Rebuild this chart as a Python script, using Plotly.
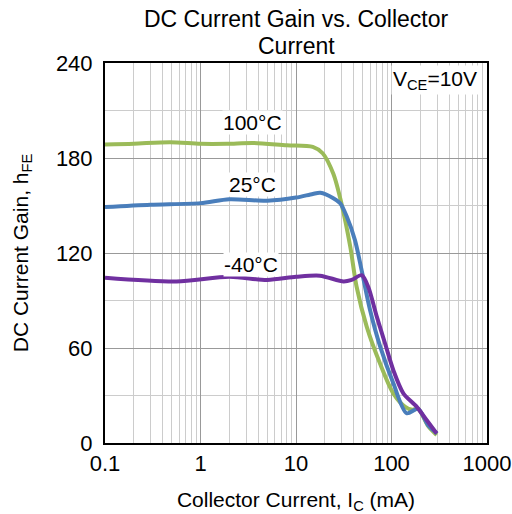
import plotly.graph_objects as go

# 100°C
x_100 = [0.1, 0.2, 0.48, 1, 1.9, 3.6, 8, 15, 19, 24.6, 30, 37, 43, 55, 76, 104, 138, 165, 190, 243, 297]
y_100 = [188.5, 189, 190, 189, 189, 189.5, 188, 187, 183, 170, 151, 124, 99, 73.5, 50, 31.5, 23, 21, 21.5, 10.5, 5]

# 25°C
x_25 = [0.1, 0.3, 1, 2, 5, 10, 15, 18, 24.6, 29, 34, 41.5, 48.7, 59.6, 76, 104.5, 144, 190, 243, 300]
y_25 = [149, 150.5, 151.5, 154, 153, 155, 157.3, 158, 154.6, 151.4, 143, 128, 109, 84, 61, 37.7, 18.8, 21.5, 11, 6]

# -40°C
x_m40 = [0.1, 0.56, 2, 5, 10, 17.8, 31.5, 38.3, 48.7, 57, 70, 85.5, 104.5, 133, 183, 233, 297]
y_m40 = [104.4, 102, 105, 103, 105, 105.7, 102, 103, 106, 98.7, 80, 63, 46, 31.4, 23, 14.5, 6]

x_ticks = [0.1, 1, 10, 100, 1000]
x_tick_labels = ["0.1", "1", "10", "100", "1000"]
y_ticks = [0, 60, 120, 180, 240]

FONT = "Liberation Sans, Arial, sans-serif"

fig = go.Figure()
series = [
    (x_100, y_100, "#9BBB59", "100°C"),
    (x_25, y_25, "#4A7EBB", "25°C"),
    (x_m40, y_m40, "#7030A0", "-40°C"),
]
for xs, ys, col, name in series:
    fig.add_trace(go.Scatter(x=xs, y=ys, mode="lines", name=name, hoverinfo="skip",
                             line=dict(color=col, width=4, shape="spline", smoothing=0.8)))

fig.update_layout(
    width=512, height=514,
    margin=dict(l=105, r=25, t=63, b=71, autoexpand=False),
    paper_bgcolor="white", plot_bgcolor="white",
    showlegend=False,
    font=dict(family=FONT, color="black", size=21),
)

fig.update_xaxes(
    type="log", range=[-1, 3], automargin=False,
    tickvals=x_ticks, ticktext=x_tick_labels,
    showgrid=True, gridcolor="#999999", gridwidth=1,
    minor=dict(dtick="D1", showgrid=True, gridcolor="#cccccc", gridwidth=1),
    showline=True, linecolor="black", linewidth=2, mirror=True,
    ticks="", tickfont=dict(size=22),
    title=dict(text="Collector Current, I<sub>C</sub> (mA)", font=dict(size=21), standoff=20),
)
fig.update_yaxes(
    range=[0, 240], tickvals=y_ticks, automargin=False,
    showgrid=True, gridcolor="#999999", gridwidth=1,
    minor=dict(dtick=30, showgrid=True, gridcolor="#cccccc", gridwidth=1),
    showline=True, linecolor="black", linewidth=2, mirror=True,
    ticks="", tickfont=dict(size=22), zeroline=False, ticklabelstandoff=6,
    title=dict(text="DC Current Gain, h<sub>FE</sub>", font=dict(size=21), standoff=22),
)

title_lines = [(1.1158, "DC Current Gain vs. Collector"), (1.0447, "Current")]
for ty, txt in title_lines:
    fig.add_annotation(x=0.5, y=ty, xref="paper", yref="paper", yanchor="middle",
                       text=txt, showarrow=False,
                       font=dict(family=FONT, size=23, color="black"))

labels = [(0.306, 202.3, "100°C"), (0.322, 163, "25°C"), (0.309, 112.9, "-40°C")]
for lx, ly, txt in labels:
    fig.add_annotation(x=lx, y=ly, xref="paper", yref="y", text=txt, showarrow=False,
                       font=dict(family=FONT, size=21, color="black"), bgcolor="white",
                       borderpad=0, yanchor="middle")

fig.add_annotation(x=0.98, y=0.995, xref="paper", yref="paper", xanchor="right", yanchor="top",
                   text="V<sub>CE</sub>=10V", showarrow=False, bgcolor="white", borderpad=1,
                   font=dict(family=FONT, size=21, color="black"))

fig.write_html("out.html", config={"displayModeBar": False},
               post_script="document.body.style.margin='0';")
